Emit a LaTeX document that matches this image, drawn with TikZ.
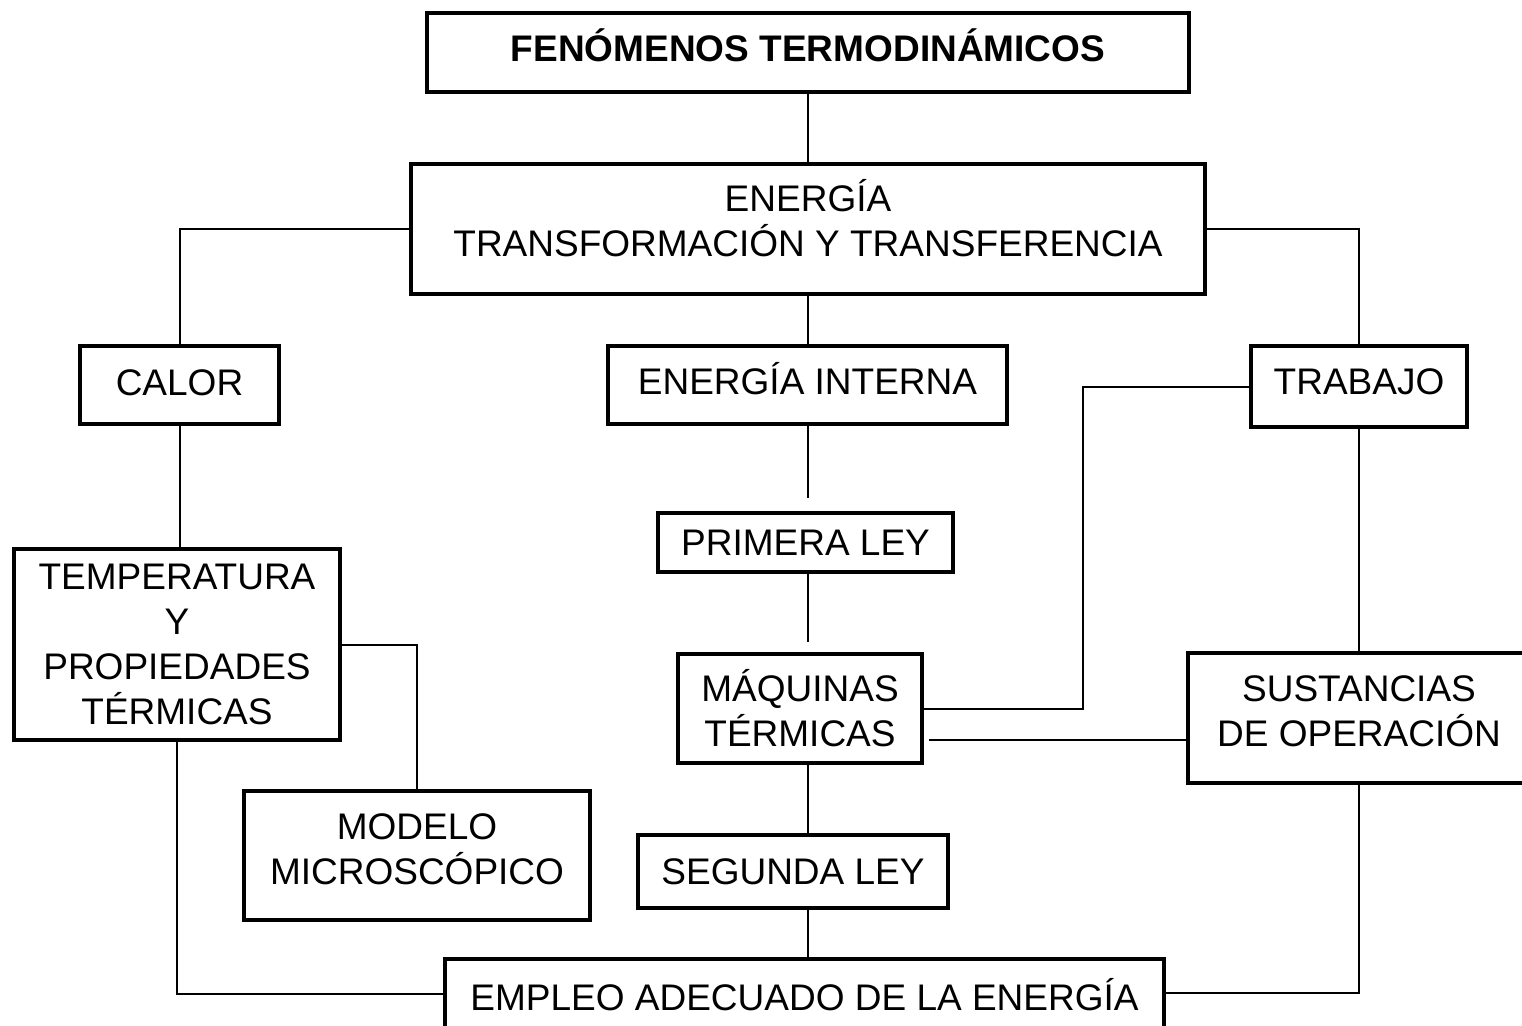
\documentclass[tikz,border=0pt]{standalone}
\usepackage{fontspec}
\setmainfont{Liberation Sans}
\usetikzlibrary{calc}

\tikzset{
  concept/.style={draw, rectangle, line width=3.6pt, inner sep=0pt, align=center,
    font=\fontsize{37}{45}\selectfont},
  link/.style={line width=2pt},
}

\begin{document}
\begin{tikzpicture}[x=1pt,y=-1pt]
  \useasboundingbox (0,0) rectangle (1522,1025);
  \clip (0,0) rectangle (1522,1025);

  % Title
  \node[concept, minimum width=762pt, minimum height=79pt, text depth=14pt,
    font=\fontsize{37}{45}\selectfont\bfseries] (fen) at (808,52.5) {FENÓMENOS TERMODINÁMICOS};
  \node[concept, minimum width=794pt, minimum height=130pt, text depth=22pt] (ener) at (808,229)
    {ENERGÍA\\TRANSFORMACIÓN Y TRANSFERENCIA};

  % Second row
  \node[concept, minimum width=199pt, minimum height=78pt, text depth=4pt] (calor) at (179.5,385) {CALOR};
  \node[concept, minimum width=399pt, minimum height=78pt, text depth=14pt] (eint) at (807.5,385) {ENERGÍA INTERNA};
  \node[concept, minimum width=216pt, minimum height=81pt, text depth=10pt] (trab) at (1359,386.5) {TRABAJO};

  % Left branch
  \node[concept, minimum width=326pt, minimum height=191pt] (temp) at (177,644.5)
    {TEMPERATURA\\Y\\PROPIEDADES\\TÉRMICAS};
  \node[concept, minimum width=346pt, minimum height=129pt, text depth=12pt] (modelo) at (417,855.5)
    {MODELO\\MICROSCÓPICO};

  % Middle branch
  \node[concept, minimum width=295pt, minimum height=59pt] (pley) at (805.5,542.5) {PRIMERA LEY};
  \node[concept, minimum width=244pt, minimum height=109pt] (maq) at (800,708.5) {MÁQUINAS\\TÉRMICAS};
  \node[concept, minimum width=310pt, minimum height=73pt] (seg) at (793,871.5) {SEGUNDA LEY};

  % Right branch
  \node[concept, minimum width=342pt, minimum height=130pt, text depth=14pt] (sust) at (1359,718)
    {SUSTANCIAS\\DE OPERACIÓN};

  % Bottom
  \node[concept, minimum width=719pt, minimum height=76pt, text depth=6pt] (emp) at (804.5,997)
    {EMPLEO ADECUADO DE LA ENERGÍA};

  % Connectors
  \coordinate (maqout) at ($(maq.east)+(5,0)$);
  \coordinate (sustin) at ($(sust.west)+(0,22)$);
  \draw[link] (fen) -- (ener);
  \draw[link] (ener.west) -| (calor.north);
  \draw[link] (ener.east) -| (trab.north);
  \draw[link] (ener.south) -- (ener.south |- eint.north);
  \draw[link, shorten >=13pt] (eint.south) -- (eint.south |- pley.north);
  \draw[link, shorten >=10pt] (eint.south |- pley.south) -- (eint.south |- maq.north);
  \draw[link] (eint.south |- maq.south) -- (eint.south |- seg.north);
  \draw[link] (eint.south |- seg.south) -- (eint.south |- emp.north);
  \draw[link] (trab.west) -- ++(-166,0) |- (maq.east);
  \draw[link] (sustin) -- (sustin -| maqout);
  \draw[link] (trab.south) -- (sust.north);
  \draw[link] (sust.south) |- ($(emp.east)+(0,-4)$);
  \draw[link] (calor.south) -- (calor.south |- temp.north);
  \draw[link] (temp.east) -| (modelo.north);
  \draw[link] (temp.south) |- ($(emp.west)+(0,-3)$);
\end{tikzpicture}
\end{document}
